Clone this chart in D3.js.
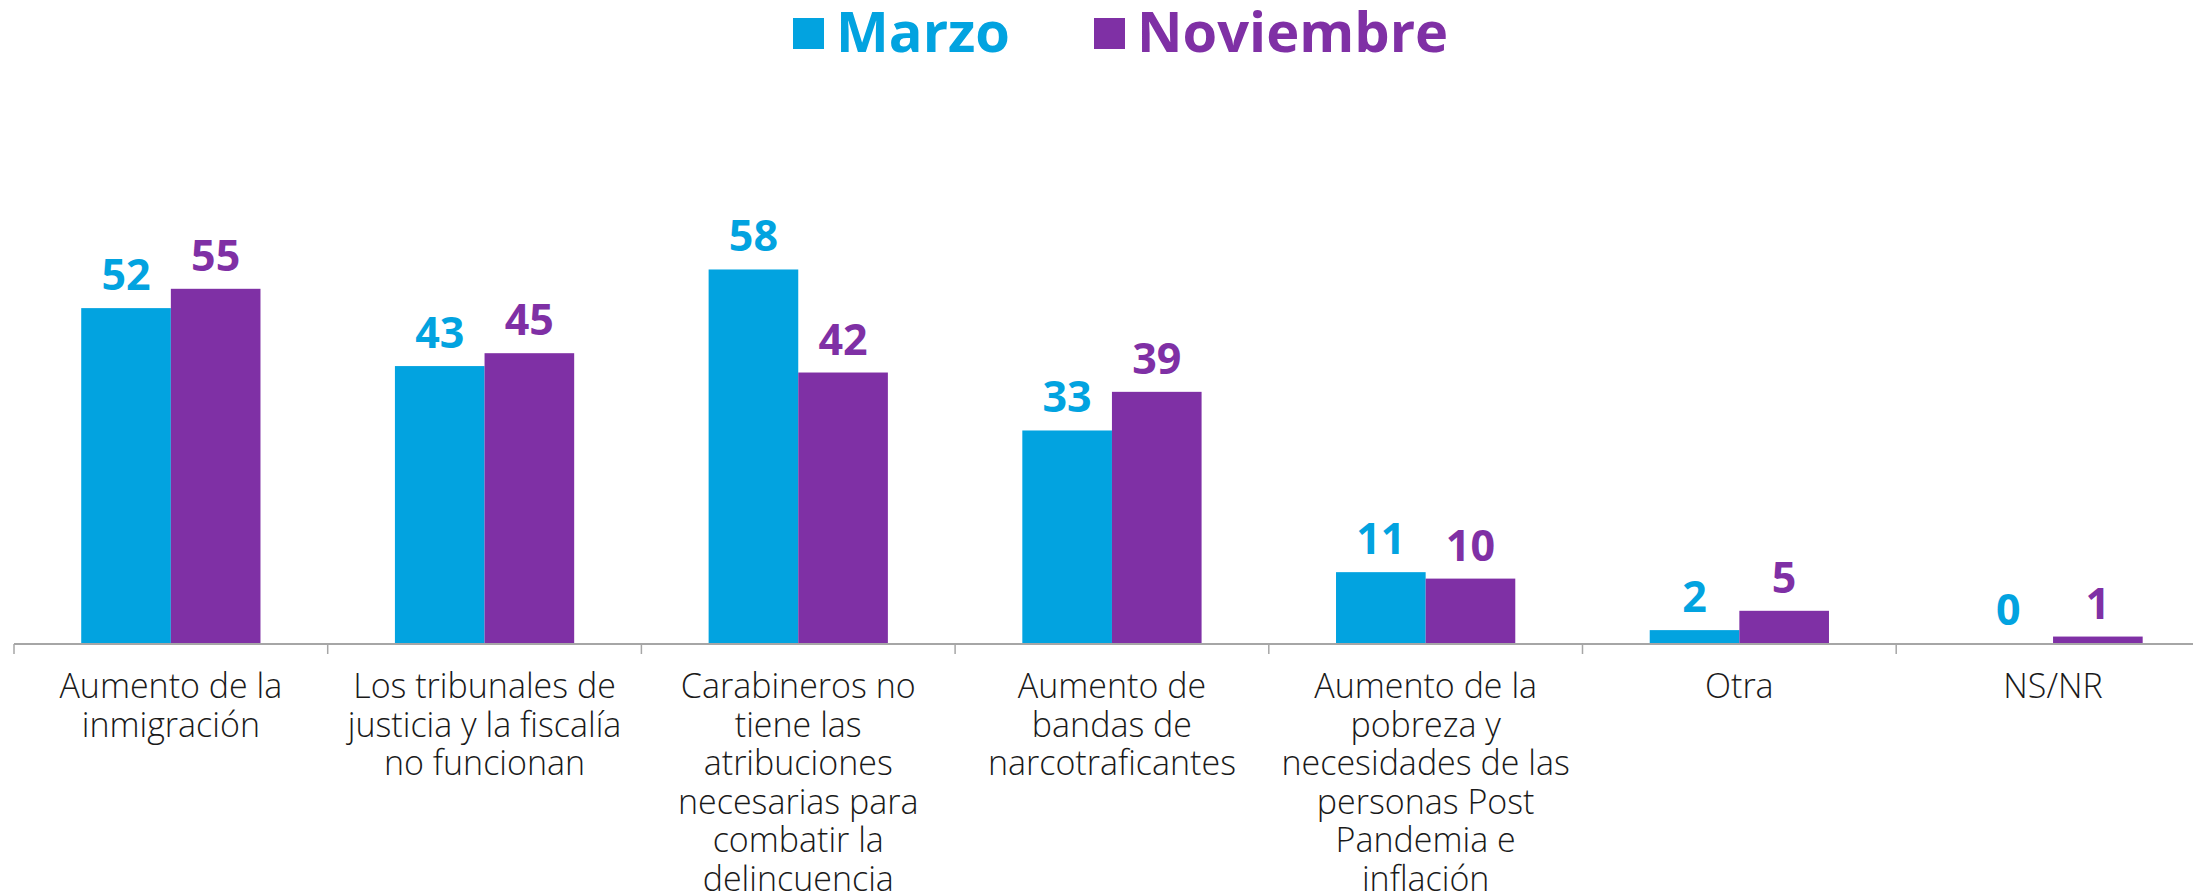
<!DOCTYPE html>
<html lang="es">
<head>
    <meta charset="UTF-8">
    <title>Marzo vs Noviembre</title>
    <script src="https://d3js.org/d3.v7.min.js"></script>
    <style>
        body { margin: 0; background: #fff; }
        svg { display: block; }
    </style>
</head>
<body>
    <div id="chart"></div>
    <script>
        // data
        const categories = [
            "Aumento de la\ninmigración",
            "Los tribunales de\njusticia y la fiscalía\nno funcionan",
            "Carabineros no\ntiene las\natribuciones\nnecesarias para\ncombatir la\ndelincuencia",
            "Aumento de\nbandas de\nnarcotraficantes",
            "Aumento de la\npobreza y\nnecesidades de las\npersonas Post\nPandemia e\ninflación",
            "Otra",
            "NS/NR"
        ];
        const seriesNames = ["Marzo", "Noviembre"];
        const marzo = [52, 43, 58, 33, 11, 2, 0];
        const noviembre = [55, 45, 42, 39, 10, 5, 1];
        const colors = ["#02A3E0", "#7F30A5"];

        const width = 2193, height = 894;
        const axisY = 643;

        const svg = d3.select('#chart').append('svg')
            .attr('width', width)
            .attr('height', height);

        const x = d3.scaleBand()
            .domain(d3.range(categories.length))
            .range([14, 14 + 313.7 * categories.length])
            .paddingInner(0)
            .paddingOuter(0);

        const inner = d3.scaleBand()
            .domain([0, 1])
            .range([0, x.bandwidth()])
            .paddingInner(0)
            .paddingOuter(0.75);

        const y = d3.scaleLinear()
            .domain([0, 60])
            .range([axisY, axisY - 386.4]);

        const rows = categories.map((c, i) => ({ i, vals: [marzo[i], noviembre[i]] }));

        const groups = svg.selectAll('g.cat')
            .data(rows)
            .join('g')
            .attr('class', 'cat')
            .attr('transform', d => `translate(${x(d.i)},0)`);

        groups.selectAll('rect')
            .data(d => d.vals.map((v, s) => ({ v, s })))
            .join('rect')
            .attr('x', d => inner(d.s))
            .attr('width', inner.bandwidth())
            .attr('y', d => y(d.v))
            .attr('height', d => axisY - y(d.v))
            .attr('fill', d => colors[d.s]);

        groups.selectAll('text.val')
            .data(d => d.vals.map((v, s) => ({ v, s })))
            .join('text')
            .attr('class', 'val')
            .attr('x', d => inner(d.s) + inner.bandwidth() / 2)
            .attr('y', d => y(d.v) - 18)
            .attr('text-anchor', 'middle')
            .style('font-family', "'Open Sans', sans-serif")
            .style('font-weight', 700)
            .style('font-size', '43px')
            .attr('fill', d => colors[d.s])
            .text(d => d.v);

        // axis line + ticks at band edges
        svg.append('line')
            .attr('x1', x.range()[0]).attr('x2', width)
            .attr('y1', axisY + 1).attr('y2', axisY + 1)
            .attr('stroke', '#A6A6A6').attr('stroke-width', 2);

        svg.selectAll('line.tick')
            .data(d3.range(categories.length))
            .join('line')
            .attr('class', 'tick')
            .attr('x1', d => x(d)).attr('x2', d => x(d))
            .attr('y1', axisY + 1).attr('y2', axisY + 11)
            .attr('stroke', '#A6A6A6').attr('stroke-width', 1.5);

        // category labels
        const labels = svg.selectAll('text.cat')
            .data(categories)
            .join('text')
            .attr('class', 'cat')
            .attr('text-anchor', 'middle')
            .attr('fill', '#1a1a1a')
            .style('font-family', "'Open Sans', sans-serif")
            .style('font-weight', 300)
            .style('font-size', '34px');

        labels.selectAll('tspan')
            .data((d, i) => d.split('\n').map(t => ({ t, i })))
            .join('tspan')
            .attr('x', d => x(d.i) + x.bandwidth() / 2)
            .attr('y', (d, j) => 698 + j * 38.6)
            .text(d => d.t);

        // legend
        const legendX = [793, 1094];
        const legend = svg.selectAll('g.legend')
            .data(seriesNames)
            .join('g')
            .attr('class', 'legend')
            .attr('transform', (d, i) => `translate(${legendX[i]},0)`);

        legend.append('rect')
            .attr('x', 0).attr('y', 18)
            .attr('width', 31).attr('height', 31)
            .attr('fill', (d, i) => colors[i]);

        legend.append('text')
            .attr('x', 43).attr('y', 52)
            .attr('fill', (d, i) => colors[i])
            .style('font-family', "'Open Sans', sans-serif")
            .style('font-weight', 700)
            .style('font-size', '56px')
            .text(d => d);
    </script>
</body>
</html>
